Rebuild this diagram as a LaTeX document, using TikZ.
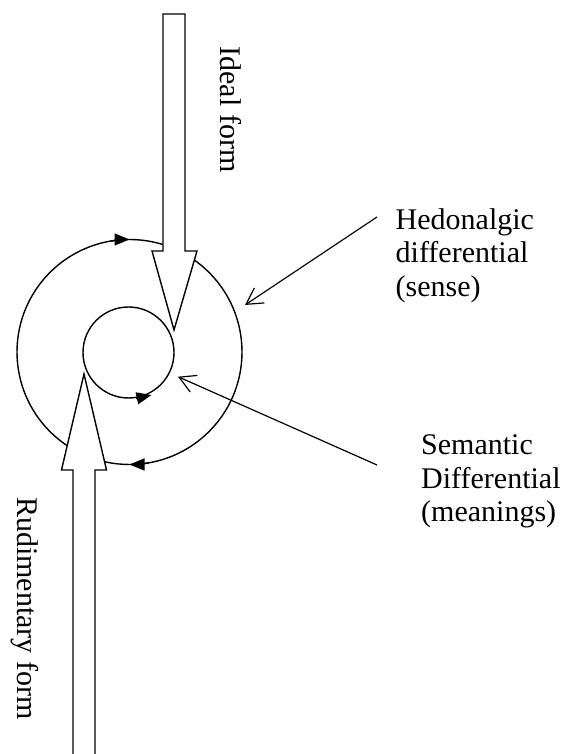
\documentclass[tikz,border=0pt]{standalone}
\usepackage{fontspec}
\setmainfont{Liberation Serif}
\usetikzlibrary{arrows.meta}
\begin{document}
\begin{tikzpicture}[x=1pt,y=1pt,line width=1.4pt,
  bigarrow/.style={draw=black,line width=1.4pt,line join=miter},
  pointer/.style={-{Straight Barb[length=16pt,width=18pt]},line width=1.2pt},
  cyclearrow/.style={-{Triangle[length=15pt,width=12pt]}},
  lbl/.style={font=\fontsize{30}{33.5}\selectfont,inner sep=0pt,align=left}]
\useasboundingbox (0,0) rectangle (561,754);
% circles
\coordinate (O) at (129.5,402);
\coordinate (I) at (128.5,401.5);
\draw (O) circle[radius=112.5];
\draw (I) circle[radius=45.5];
\draw[cyclearrow] ([shift={(100:112.5)}]O) arc[start angle=100,end angle=90,radius=112.5];
\draw[cyclearrow] ([shift={(280:112.5)}]O) arc[start angle=280,end angle=270,radius=112.5];
\coordinate (innerA) at (136,355.5);
\coordinate (innerB) at (151.5,359);
\draw[cyclearrow] (innerA) -- (innerB);
% top block arrow (Ideal form)
\draw[bigarrow,fill=white] (163,740) -- (185,740) -- (185,503) -- (197,503) -- (174,424)
  -- (152,503) -- (163,503) -- cycle;
% bottom block arrow (Rudimentary form)
\fill[white] (73,0) -- (73,284) -- (61.5,284) -- (84,380) -- (106.5,284) -- (95,284) -- (95,0) -- cycle;
\draw[bigarrow] (73,0) -- (73,284) -- (61.5,284) -- (84,380) -- (106.5,284) -- (95,284) -- (95,0);
% labels
\node[lbl,rotate=-90,anchor=base] (ideal) at (220,644.5) {Ideal form};
\node[lbl,rotate=-90,anchor=base] (rud) at (17,145.5) {Rudimentary form};
\node[lbl,anchor=base west] (hed) at (395,457.5) {Hedonalgic\\differential\\(sense)};
\node[lbl,anchor=base west] (sem) at (420.5,232) {Semantic\\Differential\\(meanings)};
% pointers
\coordinate (hedfrom) at (377,537);
\coordinate (hedto) at (245,449);
\coordinate (semfrom) at (377,289);
\coordinate (semto) at (178,377.3);
\draw[pointer] (hedfrom) -- (hedto);
\draw[pointer] (semfrom) -- (semto);
\end{tikzpicture}
\end{document}
